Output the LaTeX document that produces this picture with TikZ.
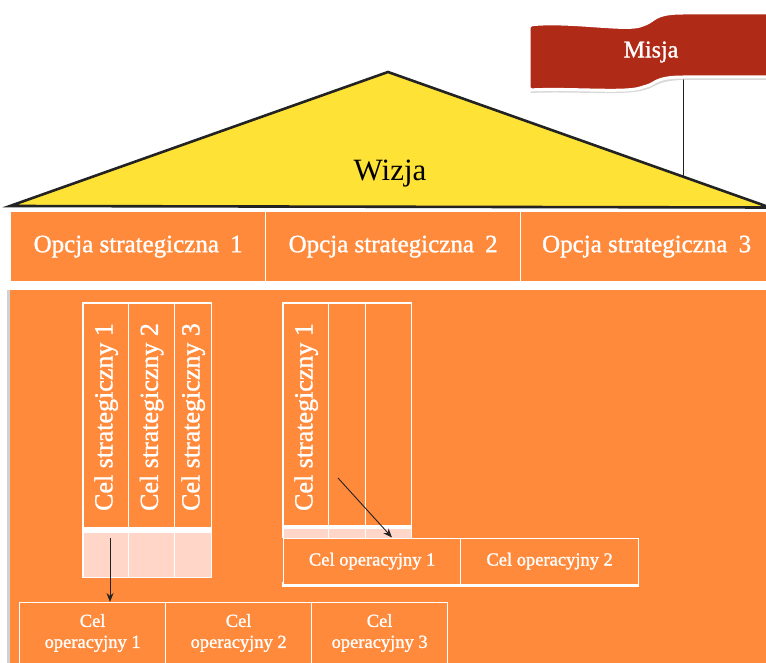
\documentclass[tikz,border=0pt]{standalone}
\usepackage{fontspec}
\setmainfont{Liberation Serif}
\newfontfamily\semib[FakeBold=1.2]{Liberation Serif}
\usetikzlibrary{arrows.meta,calc}
\definecolor{orng}{HTML}{FF8A3B}
\definecolor{roof}{HTML}{FFE236}
\definecolor{flagred}{HTML}{B02A18}
\definecolor{pinkc}{HTML}{FFD6C8}
\definecolor{edgec}{HTML}{232323}
\begin{document}
\begin{tikzpicture}[x=1pt,y=-1pt,
  cellbox/.style={draw=white, line width=1.3pt, fill=orng, text=white, inner sep=0pt, anchor=north west},
  pinkbox/.style={draw=white, line width=1.3pt, fill=pinkc, inner sep=0pt, anchor=north west},
  opctext/.style={text=white, font=\semib\fontsize{25}{28}\selectfont},
  coltext/.style={text=white, rotate=90, font=\semib\fontsize{26}{28}\selectfont},
  optext/.style={text=white, align=center, font=\semib\fontsize{18.5}{21}\selectfont},
  arr/.style={draw=edgec, line width=0.9pt, -{Stealth[length=9pt,width=7pt]}}
]
\useasboundingbox (0,0) rectangle (766,663);
\clip (0,0) rectangle (766,663);

% roof
\draw[fill=roof, draw=edgec, line width=2.6pt, line join=miter] (10,206) -- (388,72) -- (770,207.5) -- cycle;
\node[font=\fontsize{31}{34}\selectfont] (wizja) at (390,174) {Wizja};

% flag pole
\coordinate (polefoot) at (683,178);
\coordinate (poletop) at (683,79);
\draw[edgec, line width=1pt] (poletop) -- (polefoot);

% flag
\fill[black!25, opacity=0.6, shift={(1.5,3)}]
  (529,25) .. controls (570,21) and (625,31) .. (643,25) .. controls (655,20) and (655,14) .. (680,13) -- (775,13) -- (775,77) -- (680,77) .. controls (655,78) and (655,84) .. (643,87) .. controls (625,93) and (570,88) .. (529,90) -- cycle;
\draw[fill=flagred, draw=white, line width=3pt, line join=round, rounded corners=3pt]
  (529,25) .. controls (570,21) and (625,31) .. (643,25) .. controls (655,20) and (655,14) .. (680,13) -- (775,13) -- (775,77) -- (680,77) .. controls (655,78) and (655,84) .. (643,87) .. controls (625,93) and (570,88) .. (529,90) -- cycle;
\node[text=white, font=\semib\fontsize{24}{26}\selectfont] (misja) at (651,52) {Misja};

% strategic options row
\node[cellbox, minimum width=255pt, minimum height=70pt] (op1) at (10,211) {};
\node[cellbox, minimum width=255pt, minimum height=70pt] (op2) at (265,211) {};
\node[cellbox, minimum width=252pt, minimum height=70pt] (op3) at (520,211) {};
\node[opctext] at (op1.center) {Opcja strategiczna\hspace{0.45em}1};
\node[opctext] at (op2.center) {Opcja strategiczna\hspace{0.45em}2};
\node[opctext] at (op3.center) {Opcja strategiczna\hspace{0.45em}3};

% main area
\fill[black!18] (7,290) rectangle (10,670);
\node[fill=orng, draw=none, inner sep=0pt, anchor=north west, minimum width=760pt, minimum height=380pt] (main) at (10,290) {};

% left group
\fill[white] (82,302) rectangle (212,578);
\node[cellbox, minimum width=45pt, minimum height=224pt] (l1) at (83,303) {};
\node[cellbox, minimum width=46pt, minimum height=224pt] (l2) at (128,303) {};
\node[cellbox, minimum width=37pt, minimum height=224pt] (l3) at (174,303) {};
\node[coltext] at (l1.center |- 0,417) {Cel strategiczny 1};
\node[coltext] at (l2.center |- 0,417) {Cel strategiczny 2};
\node[coltext] at (l3.center |- 0,417) {Cel strategiczny 3};
\node[pinkbox, minimum width=45pt, minimum height=45pt] (lp1) at (83,532) {};
\node[pinkbox, minimum width=46pt, minimum height=45pt] (lp2) at (128,532) {};
\node[pinkbox, minimum width=37pt, minimum height=45pt] (lp3) at (174,532) {};

% bottom operational goals (left)
\node[cellbox, minimum width=146pt, minimum height=70pt] (ob1) at (19,602) {};
\node[cellbox, minimum width=146pt, minimum height=70pt] (ob2) at (165,602) {};
\node[cellbox, minimum width=136pt, minimum height=70pt] (ob3) at (311,602) {};
\node[optext] at ($(ob1.north)+(0,31)$) {Cel\\operacyjny 1};
\node[optext] at ($(ob2.north)+(0,31)$) {Cel\\operacyjny 2};
\node[optext] at ($(ob3.north)+(0,31)$) {Cel\\operacyjny 3};

\coordinate (a1s) at (110,538);
\draw[arr] (a1s) -- (a1s |- ob1.north);

% middle group
\fill[white] (282,302) rectangle (412,538);
\node[cellbox, minimum width=45pt, minimum height=222pt] (m1) at (283,303) {};
\node[cellbox, minimum width=37pt, minimum height=222pt] (m2) at (328,303) {};
\node[cellbox, minimum width=46pt, minimum height=222pt] (m3) at (365,303) {};
\node[coltext] at (m1.center |- 0,417) {Cel strategiczny 1};
\node[pinkbox, minimum width=45pt, minimum height=10pt] (mp1) at (283,527.5) {};
\node[pinkbox, minimum width=37pt, minimum height=10pt] (mp2) at (328,527.5) {};
\node[pinkbox, minimum width=46pt, minimum height=10pt] (mp3) at (365,527.5) {};
\fill[white] (282,582) rectangle (639,586.5);
\node[cellbox, minimum width=177pt, minimum height=46pt] (mo1) at (283,537.5) {};
\node[cellbox, minimum width=178pt, minimum height=46pt] (mo2) at (460,537.5) {};
\node[optext] at (mo1.center) {Cel operacyjny 1};
\node[optext] at (mo2.center) {Cel operacyjny 2};

\coordinate (a2s) at (338,478);
\coordinate (a2e) at (392,537.5);
\draw[arr] (a2s) -- (a2e);
\end{tikzpicture}
\end{document}
